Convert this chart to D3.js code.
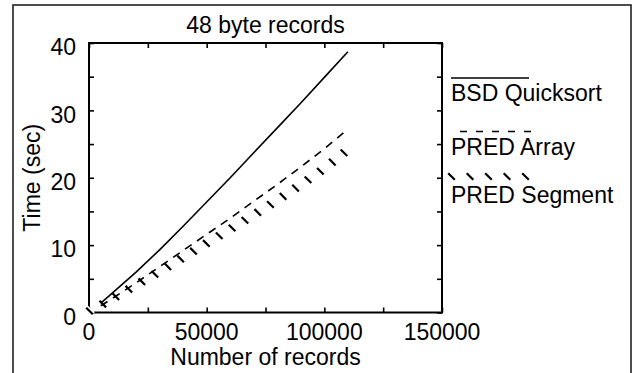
<!DOCTYPE html>
<html><head><meta charset="utf-8">
<script src="https://cdn.jsdelivr.net/npm/d3@7"></script>
<style>
html,body{margin:0;padding:0;background:#fff;}
svg text{font-family:"Liberation Sans",Arial,Helvetica,sans-serif;fill:#000;}
</style></head>
<body>
<svg id="c" width="632" height="373"></svg>
<script>
// ---- data ----
const records = [5000, 10000, 20000, 30000, 40000, 50000, 60000, 70000, 80000, 90000, 100000, 110000];
const bsdQuicksort = [1.4, 2.9, 6.0, 9.3, 12.8, 16.4, 20.0, 23.7, 27.4, 31.1, 34.9, 38.7];
const predArray    = [1.0, 2.1, 4.4, 6.8, 9.2, 11.6, 14.0, 16.5, 19.0, 21.6, 24.3, 27.2];
const segRecords   = [0, 5000, 10000, 20000, 30000, 40000, 50000, 60000, 70000, 80000, 90000, 100000, 111000];
const predSegment  = [0, 0.9, 1.9, 3.9, 5.9, 8.0, 10.1, 12.2, 14.3, 16.5, 18.8, 21.2, 24.3];
const xTicks = [0, 25000, 50000, 75000, 100000, 125000, 150000];
const xTickLabels = [0, 50000, 100000, 150000];
const yTicks = [0, 5, 10, 15, 20, 25, 30, 35, 40];
const yTickLabels = [0, 10, 20, 30, 40];
const seriesNames = ["BSD Quicksort", "PRED Array", "PRED Segment"];
const title = "48 byte records";
const xTitle = "Number of records";
const yTitle = "Time (sec)";

// ---- layout ----
const svg = d3.select("#c");
const L = 89, R = 442, T = 43, B = 312.5;
const FS = 23;
const x = d3.scaleLinear().domain([0, 150000]).range([L, R]);
const y = d3.scaleLinear().domain([0, 40]).range([B, T]);

// outer border
svg.append("rect").attr("x", 13).attr("y", 5).attr("width", 618).attr("height", 400)
  .attr("fill", "none").attr("stroke", "#222").attr("stroke-width", 1.6);

// title
svg.append("text").attr("x", (L + R) / 2).attr("y", 33).attr("text-anchor", "middle")
  .attr("font-size", FS).text(title);

// frame
const g = svg.append("g");
g.append("rect").attr("x", x(0)).attr("y", y(40)).attr("width", x(150000) - x(0)).attr("height", y(0) - y(40))
  .attr("fill", "none").attr("stroke", "#000").attr("stroke-width", 2);

// inward ticks using d3 axes
const tl = 5;
const axB = d3.axisBottom(x).tickValues(xTicks).tickSize(-tl).tickFormat("");
const axT = d3.axisTop(x).tickValues(xTicks).tickSize(-tl).tickFormat("");
const axLf = d3.axisLeft(y).tickValues(yTicks).tickSize(-tl).tickFormat("");
const axRt = d3.axisRight(y).tickValues(yTicks).tickSize(-tl).tickFormat("");
function styleAx(sel){ sel.select(".domain").remove(); sel.selectAll("line").attr("stroke","#000").attr("stroke-width",1.6); }
g.append("g").attr("transform", `translate(0,${B})`).call(axB).call(styleAx);
g.append("g").attr("transform", `translate(0,${T})`).call(axT).call(styleAx);
g.append("g").attr("transform", `translate(${L},0)`).call(axLf).call(styleAx);
g.append("g").attr("transform", `translate(${R},0)`).call(axRt).call(styleAx);

// tick labels
svg.append("g").selectAll("text").data(xTickLabels).join("text")
  .attr("x", d => x(d)).attr("y", B + 27.5).attr("text-anchor", "middle").attr("font-size", FS)
  .text(d => d);
svg.append("g").selectAll("text").data(yTickLabels).join("text")
  .attr("x", 76).attr("y", d => y(d) + 12.3).attr("text-anchor", "end").attr("font-size", FS)
  .text(d => d);

// axis titles
svg.append("text").attr("x", (L + R) / 2).attr("y", 365).attr("text-anchor", "middle")
  .attr("font-size", FS).text(xTitle);
svg.append("text").attr("transform", `translate(40,${(T + B) / 2}) rotate(-90)`)
  .attr("text-anchor", "middle").attr("font-size", FS).text(yTitle);

// lines
const line = d3.line().x(d => x(d[0])).y(d => y(d[1]));
const bsdPts = records.map((r, i) => [r, bsdQuicksort[i]]);
const arrPts = records.map((r, i) => [r, predArray[i]]);
const segPts = segRecords.map((r, i) => [r, predSegment[i]]);

svg.append("path").attr("d", line(bsdPts)).attr("fill", "none").attr("stroke", "#000").attr("stroke-width", 1.6);
svg.append("path").attr("d", line(arrPts)).attr("fill", "none").attr("stroke", "#000").attr("stroke-width", 1.6)
  .attr("stroke-dasharray", "8,6.5");

// PRED Segment: hatch ticks sampled along the path
const tmp = svg.append("path").attr("d", line(segPts)).attr("fill", "none").attr("stroke", "none");
const node = tmp.node();
const len = node.getTotalLength();
const step = 15;
const tickPts = [];
for (let s = 0; s <= len + 0.01; s += step) { const p = node.getPointAtLength(Math.min(s, len)); tickPts.push([p.x, p.y]); }
function hatch(sel, pts, halo) {
  const gg = sel.append("g");
  if (halo) {
    gg.selectAll("line.h").data(pts.slice(0,1)).join("line").attr("class","h")
      .attr("x1", d => d[0] - 3.3).attr("y1", d => d[1] - 3.3)
      .attr("x2", d => d[0] + 3.3).attr("y2", d => d[1] + 3.3)
      .attr("stroke", "#fff").attr("stroke-width", 5.5);
  }
  gg.selectAll("line.t").data(pts).join("line").attr("class","t")
    .attr("x1", d => d[0] - 3.3).attr("y1", d => d[1] - 3.3)
    .attr("x2", d => d[0] + 3.3).attr("y2", d => d[1] + 3.3)
    .attr("stroke", "#000").attr("stroke-width", 2.2);
}
hatch(svg, tickPts.map(p => [p[0] + 0.5, p[1] - 1.5]), true);

// legend
const lx0 = 451, lx1 = 529;
const leg = svg.append("g");
leg.append("line").attr("x1", lx0).attr("x2", lx1).attr("y1", 78).attr("y2", 78).attr("stroke", "#000").attr("stroke-width", 1.6);
leg.append("text").attr("x", 451).attr("y", 101).attr("font-size", FS).text(seriesNames[0]);
leg.append("line").attr("x1", 460).attr("x2", 538).attr("y1", 131.5).attr("y2", 131.5).attr("stroke", "#000").attr("stroke-width", 1.6)
  .attr("stroke-dasharray", "7,9");
leg.append("text").attr("x", 451).attr("y", 155).attr("font-size", FS).text(seriesNames[1]);
const legTicks = d3.range(5).map(i => [451.5 + i * 18.5, 176.5]);
hatch(leg, legTicks, false);
leg.append("text").attr("x", 451).attr("y", 203).attr("font-size", FS).text(seriesNames[2]);
</script>
</body></html>
